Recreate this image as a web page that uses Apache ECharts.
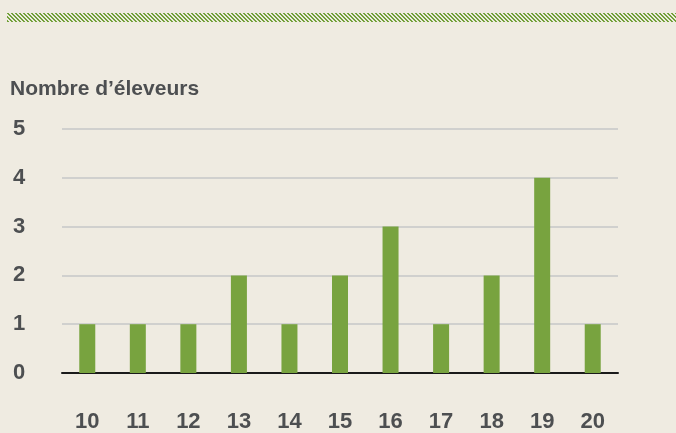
<!DOCTYPE html>
<html>
<head>
<meta charset="utf-8">
<script src="https://cdn.jsdelivr.net/npm/echarts@6/dist/echarts.min.js"></script>
<style>
  html, body { margin: 0; padding: 0; background: #efebe1; }
  #chart { width: 676px; height: 433px; }
</style>
</head>
<body>
<div id="chart"></div>
<script>
// catégories (x) et nombre d'éleveurs
const categories = ['10', '11', '12', '13', '14', '15', '16', '17', '18', '19', '20'];
const eleveurs = [1, 1, 1, 2, 1, 2, 3, 1, 2, 4, 1];
const yTicks = [0, 1, 2, 3, 4, 5];

const textColor = '#4d4f51';
const fontFamily = 'Liberation Sans';

// petit motif hachuré (diagonales "\") pour la bande du haut
function stripePattern() {
  const p = 4;
  const c = document.createElement('canvas');
  c.width = p;
  c.height = p;
  const ctx = c.getContext('2d');
  ctx.fillStyle = '#72a13a';
  for (let y = 0; y < p; y++) {
    ctx.fillRect(y % p, y, 1, 1);
    ctx.fillRect((y + 1) % p, y, 1, 1);
  }
  return c;
}

const option = {
  backgroundColor: '#efebe1',
  animation: false,
  title: {
    text: 'Nombre d’éleveurs',
    left: 5,
    top: 74,
    textStyle: { color: textColor, fontSize: 21, fontWeight: 'bold', fontFamily: fontFamily }
  },
  graphic: [
    {
      type: 'rect',
      left: 7,
      top: 13,
      shape: { width: 669, height: 9 },
      style: { fill: { image: stripePattern(), repeat: 'repeat' } },
      silent: true
    }
  ],
  grid: { left: 62, right: 58, top: 129, bottom: 59 },
  xAxis: {
    type: 'category',
    data: categories,
    axisTick: { show: false },
    axisLine: { lineStyle: { color: '#1a1a1a', width: 2 } },
    axisLabel: {
      color: textColor, fontSize: 22, fontWeight: 'bold', fontFamily: fontFamily, margin: 38
    }
  },
  yAxis: {
    type: 'value',
    min: yTicks[0],
    max: yTicks[yTicks.length - 1],
    interval: 1,
    axisLine: { show: false },
    axisTick: { show: false },
    splitLine: { lineStyle: { color: '#d0d0ce', width: 2 } },
    axisLabel: {
      color: textColor, fontSize: 22, fontWeight: 'bold', fontFamily: fontFamily,
      align: 'left', margin: 49, padding: [4, 0, 0, 0]
    }
  },
  series: [
    {
      type: 'bar',
      data: eleveurs,
      barWidth: 16,
      itemStyle: { color: '#78a33f' }
    }
  ]
};

const myChart = echarts.init(document.getElementById('chart'));
myChart.setOption(option, true);
</script>
</body>
</html>
